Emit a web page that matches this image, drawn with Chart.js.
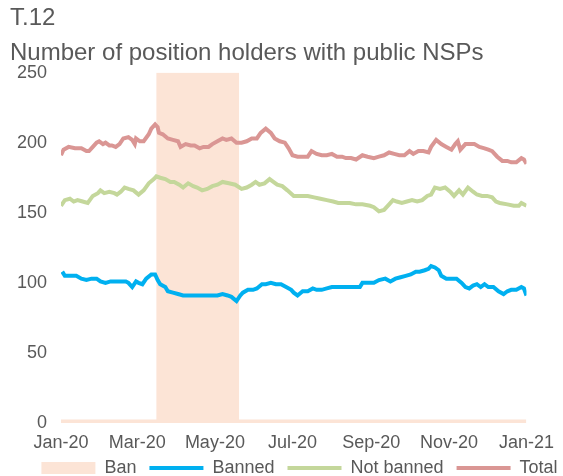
<!DOCTYPE html>
<html>
<head>
<meta charset="utf-8">
<script src="https://cdn.jsdelivr.net/npm/chart.js@4/dist/chart.umd.min.js"></script>
<style>
  html, body { margin: 0; padding: 0; background: #fff; }
  #wrap { width: 563px; height: 476px; position: relative; }
</style>
</head>
<body>
<div id="wrap"><canvas id="c"></canvas></div>
<script>
// x values are days counted from 1 Jan 2020
const tickDays = [0, 60, 121, 182, 244, 305, 366];
const tickLabels = ["Jan-20", "Mar-20", "May-20", "Jul-20", "Sep-20", "Nov-20", "Jan-21"];

// short selling ban: 17 Mar - 18 May 2020
const banDays = [0, 75, 140, 366];
const banValues = [2.5, 250, 2.5, 2.5];

const bannedDays = [1, 3, 7, 12, 16, 20, 24, 28, 31, 35, 39, 43, 47, 51, 53, 56, 59, 61, 64, 67,
  71, 74, 76, 78, 82, 84, 88, 92, 96, 104, 111, 123, 127, 131, 134, 138, 141, 143, 147, 151,
  154, 158, 161, 165, 169, 173, 177, 181, 183, 186, 190, 194, 198, 201, 205, 209, 213, 217, 221, 223,
  227, 231, 235, 237, 243, 246, 250, 255, 259, 263, 267, 271, 275, 279, 282, 286, 289, 291, 294, 297,
  299, 303, 307, 311, 315, 318, 321, 324, 327, 330, 333, 336, 340, 344, 348, 351, 354, 358, 362, 364, 366];
const bannedValues = [108, 105, 105, 105, 103, 102, 103, 103, 101, 100, 101, 101, 101, 101, 100, 97, 101, 100, 99, 103,
  106, 106, 102, 99, 97, 94, 93, 92, 91, 91, 91, 91, 92, 91, 90, 87, 91, 93, 95, 95,
  96, 99, 99, 100, 99, 99, 97, 95, 93, 91, 94, 94, 96, 95, 95, 96, 97, 97, 97, 97,
  97, 97, 97, 100, 100, 100, 102, 103, 101, 103, 104, 105, 106, 108, 108, 109, 110, 112, 111, 109,
  105, 103, 103, 103, 100, 97, 96, 98, 99, 97, 99, 97, 97, 94, 92, 94, 95, 95, 97, 96, 91];

const notBannedDays = [0, 3, 7, 10, 13, 17, 21, 25, 29, 31, 34, 38, 42, 44, 47, 50, 53, 57, 61, 65,
  69, 73, 75, 78, 82, 86, 89, 93, 96, 100, 104, 107, 111, 115, 119, 123, 127, 132, 137, 142,
  146, 150, 153, 156, 160, 164, 167, 170, 174, 178, 183, 188, 194, 199, 204, 209, 214, 218, 222, 227,
  232, 237, 243, 246, 250, 254, 258, 261, 264, 268, 272, 276, 280, 284, 288, 291, 294, 298, 302, 306,
  309, 313, 316, 320, 324, 327, 331, 335, 339, 342, 345, 351, 356, 360, 362, 366];
const notBannedValues = [155, 159, 160, 158, 159, 158, 157, 162, 164, 166, 164, 165, 164, 163, 165, 168, 167, 166, 163, 166,
  171, 174, 176, 175, 174, 172, 172, 170, 168, 171, 169, 168, 166, 167, 169, 170, 172, 171, 170, 167,
  168, 170, 172, 170, 171, 174, 172, 170, 169, 166, 162, 162, 162, 161, 160, 159, 158, 157, 157, 157,
  156, 156, 155, 154, 151, 152, 156, 159, 158, 157, 158, 159, 158, 159, 162, 163, 168, 167, 168, 165,
  162, 166, 163, 168, 165, 163, 162, 162, 161, 158, 157, 156, 155, 155, 157, 155];

const totalDays = [0, 2, 6, 11, 16, 20, 22, 25, 28, 30, 33, 35, 38, 40, 43, 46, 49, 53, 56, 58,
  59, 62, 65, 69, 71, 74, 76, 77, 80, 84, 88, 92, 94, 98, 102, 105, 109, 112, 116, 119,
  123, 127, 130, 134, 138, 142, 146, 150, 154, 157, 161, 165, 168, 172, 176, 179, 182, 186, 190, 194,
  197, 201, 205, 209, 213, 217, 221, 224, 228, 232, 237, 241, 246, 250, 254, 258, 262, 266, 270, 274,
  277, 281, 285, 289, 291, 295, 299, 303, 307, 310, 312, 314, 318, 321, 325, 329, 333, 336, 339, 343,
  347, 351, 354, 358, 362, 364, 366];
const totalValues = [191, 195, 197, 196, 196, 194, 194, 197, 200, 201, 199, 200, 198, 198, 197, 199, 203, 204, 202, 199,
  203, 201, 201, 206, 210, 213, 211, 207, 206, 203, 202, 201, 197, 199, 198, 198, 196, 197, 197, 199,
  201, 203, 202, 203, 200, 200, 201, 203, 203, 207, 210, 207, 203, 201, 200, 196, 191, 190, 190, 190,
  194, 192, 191, 191, 192, 190, 190, 189, 189, 188, 191, 190, 189, 190, 191, 193, 192, 191, 191, 194,
  192, 194, 194, 193, 197, 202, 199, 197, 195, 199, 201, 195, 199, 199, 199, 197, 196, 195, 194, 190,
  187, 187, 186, 186, 189, 188, 185];

const pts = (xs, ys) => xs.map((x, i) => ({ x: x, y: ys[i] }));

const textColor = "#595959";
const fontFamily = "'Liberation Sans', Arial, sans-serif";

function lineSet(label, xs, ys, color) {
  return {
    label: label,
    data: pts(xs, ys),
    borderColor: color,
    backgroundColor: color,
    borderWidth: 4,
    pointRadius: 0,
    tension: 0,
    fill: false,
  };
}

// nudge the legend row right and up, like the original
const legendShift = {
  id: "legendShift",
  afterLayout(chart) {
    const lg = chart.legend;
    lg.left += 13;
    lg.right += 13;
    lg.top -= 8;
    lg.bottom -= 8;
  },
};

new Chart(document.getElementById("c"), {
  type: "line",
  data: {
    datasets: [
      {
        label: "Ban",
        data: pts(banDays, banValues),
        stepped: "before",
        borderWidth: 0,
        pointRadius: 0,
        backgroundColor: "#FCE4D6",
        borderColor: "#FCE4D6",
        fill: "origin",
      },
      lineSet("Banned", bannedDays, bannedValues, "#00B0F0"),
      lineSet("Not banned", notBannedDays, notBannedValues, "#C4D79B"),
      lineSet("Total", totalDays, totalValues, "#DA9694"),
    ],
  },
  plugins: [legendShift],
  options: {
    responsive: true,
    maintainAspectRatio: false,
    animation: false,
    layout: { padding: { left: 10, right: 0, top: 0, bottom: -19 } },
    scales: {
      x: {
        type: "linear",
        min: 0,
        max: 366,
        grid: { display: false, drawTicks: false },
        border: { display: false },
        afterBuildTicks: (scale) => {
          scale.ticks = tickDays.map((d) => ({ value: d }));
        },
        afterFit: (scale) => {
          scale.height = 31;
        },
        ticks: {
          autoSkip: false,
          maxRotation: 0,
          padding: 9,
          color: textColor,
          font: { family: fontFamily, size: 18 },
          callback: (value) => tickLabels[tickDays.indexOf(value)],
        },
      },
      y: {
        min: 0,
        max: 250,
        grid: { display: false, drawTicks: false },
        border: { display: false },
        afterFit: (scale) => {
          scale.width = 51;
        },
        ticks: {
          stepSize: 50,
          padding: 14,
          color: textColor,
          font: { family: fontFamily, size: 18 },
        },
      },
    },
    plugins: {
      filler: { drawTime: "beforeDatasetsDraw" },
      tooltip: { enabled: false },
      title: {
        display: true,
        align: "start",
        text: ["T.12", "Number of position holders with public NSPs"],
        color: textColor,
        font: { family: fontFamily, size: 24, weight: "normal", lineHeight: 1.45 },
        padding: { top: 1, bottom: 2 },
      },
      legend: {
        position: "bottom",
        labels: {
          usePointStyle: true,
          pointStyleWidth: 54,
          boxHeight: 12,
          padding: 13,
          color: textColor,
          font: { family: fontFamily, size: 18 },
          generateLabels: (chart) =>
            chart.data.datasets.map((ds, i) => ({
              text: ds.label,
              fillStyle: ds.backgroundColor,
              strokeStyle: ds.borderColor,
              lineWidth: i === 0 ? 0 : 4,
              pointStyle: i === 0 ? "rect" : "line",
              fontColor: textColor,
              hidden: false,
              datasetIndex: i,
            })),
        },
      },
    },
  },
});
</script>
</body>
</html>
